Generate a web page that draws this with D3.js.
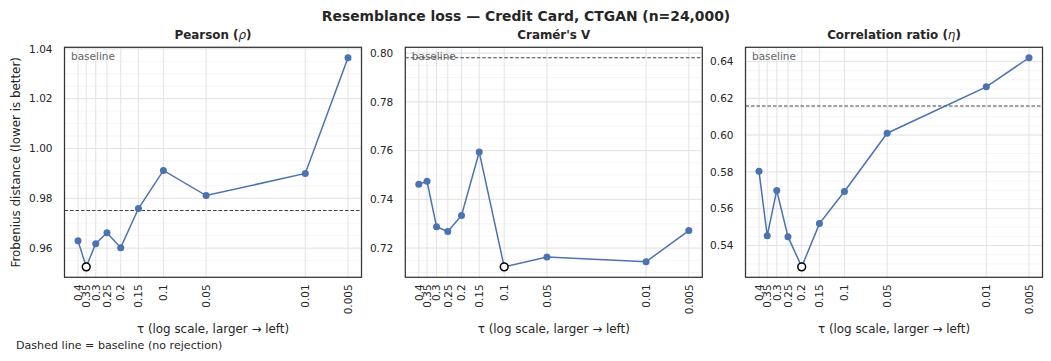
<!DOCTYPE html>
<html><head><meta charset="utf-8">
<script src="https://cdn.jsdelivr.net/npm/d3@7"></script>
<style>
body{margin:0;background:#fff;}
svg text{font-family:"DejaVu Sans",sans-serif;fill:#262626;}
</style></head>
<body><svg id="c" width="1051" height="361"></svg>
<script>
const tau = [0.4, 0.35, 0.3, 0.25, 0.2, 0.15, 0.1, 0.05, 0.01, 0.005];
const tauLabels = ["0.4","0.35","0.3","0.25","0.2","0.15","0.1","0.05","0.01","0.005"];
const pearson   = [0.9630, 0.9525, 0.9618, 0.9662, 0.9602, 0.9759, 0.9912, 0.9811, 0.9900, 1.0364];
const cramer    = [0.7462, 0.7474, 0.7288, 0.7268, 0.7334, 0.7594, 0.7123, 0.7163, 0.7144, 0.7272];
const corrRatio = [0.5803, 0.5453, 0.5699, 0.5448, 0.5284, 0.5519, 0.5693, 0.6010, 0.6262, 0.6420];
const baselines = [0.9751, 0.7981, 0.6158];
const yTicksPearson = [0.96, 0.98, 1.00, 1.02, 1.04];
const yTicksCramer  = [0.72, 0.74, 0.76, 0.78, 0.80];
const yTicksCorr    = [0.54, 0.56, 0.58, 0.60, 0.62, 0.64];
const panelTitles = [["Pearson (", "ρ", ")"], ["Cramér's V", "", ""], ["Correlation ratio (", "η", ")"]];
const mainTitle = "Resemblance loss — Credit Card, CTGAN (n=24,000)";
const yLabel = "Frobenius distance (lower is better)";
const xLabel = "τ (log scale, larger → left)";
const footer = "Dashed line = baseline (no rejection)";

const series = [pearson, cramer, corrRatio];
const yTicks = [yTicksPearson, yTicksCramer, yTicksCorr];

const svg = d3.select("#c");
svg.append("rect").attr("width",1051).attr("height",361).attr("fill","#fff");

const lefts = [64.5, 405.3, 745.5];
const W = 297, topY = 47.3, H = 230;
const blue = "#4c72b0";

svg.append("text").attr("x", 526).attr("y", 21).attr("text-anchor","middle")
  .style("font-size","13.9px").style("font-weight","bold").text(mainTitle);

// log x with 5% padding (in log space)
const lmax = Math.log10(d3.max(tau)), lmin = Math.log10(d3.min(tau));
const lpad = (lmax - lmin) * 0.05;

series.forEach((vals, i) => {
  const g = svg.append("g").attr("transform", `translate(${lefts[i]},${topY})`);
  const x = d3.scaleLog().domain([Math.pow(10, lmax + lpad), Math.pow(10, lmin - lpad)]).range([0, W]);
  const ext = d3.extent(vals.concat([baselines[i]]));
  const yp = (ext[1] - ext[0]) * 0.05;
  const y = d3.scaleLinear().domain([ext[0] - yp, ext[1] + yp]).range([H, 0]);

  // minor horizontal grid
  const minor = d3.range(Math.ceil(y.domain()[0] / 0.005) * 0.005, y.domain()[1], 0.005);
  g.selectAll(".mn").data(minor).join("line")
    .attr("x1",0).attr("x2",W).attr("y1",d=>y(d)).attr("y2",d=>y(d))
    .attr("stroke","#f2f2f2").attr("stroke-width",0.8);
  // major horizontal grid
  g.selectAll(".mj").data(yTicks[i]).join("line")
    .attr("x1",0).attr("x2",W).attr("y1",d=>y(d)).attr("y2",d=>y(d))
    .attr("stroke","#e3e3e3").attr("stroke-width",1);
  // vertical grid
  g.selectAll(".vg").data(tau).join("line")
    .attr("x1",d=>x(d)).attr("x2",d=>x(d)).attr("y1",0).attr("y2",H)
    .attr("stroke","#e3e3e3").attr("stroke-width",1);

  // baseline
  g.append("line").attr("x1",0).attr("x2",W).attr("y1",y(baselines[i])).attr("y2",y(baselines[i]))
    .attr("stroke","#444").attr("stroke-width",1.1).attr("stroke-dasharray","3.5,2");

  // line
  const pts = tau.map((t, k) => [t, vals[k]]);
  g.append("path").datum(pts)
    .attr("d", d3.line().x(d=>x(d[0])).y(d=>y(d[1])))
    .attr("fill","none").attr("stroke",blue).attr("stroke-width",1.5);
  g.selectAll(".pt").data(pts).join("circle")
    .attr("cx",d=>x(d[0])).attr("cy",d=>y(d[1])).attr("r",3.5).attr("fill",blue);
  const mi = d3.minIndex(vals);
  g.append("circle").attr("cx", x(tau[mi])).attr("cy", y(vals[mi])).attr("r",3.9)
    .attr("fill","#fff").attr("stroke","#000").attr("stroke-width",1.5);

  // frame
  g.append("rect").attr("width",W).attr("height",H).attr("fill","none")
    .attr("stroke","#333").attr("stroke-width",1.25);

  // y ticks
  g.selectAll(".yt").data(yTicks[i]).join("text")
    .attr("x",-12).attr("y",d=>y(d)).attr("dy","0.36em").attr("text-anchor","end")
    .style("font-size","10.5px").text(d=>d.toFixed(2));
  // x ticks
  g.selectAll(".xt").data(tau).join("text")
    .attr("transform",(d)=>`translate(${x(d)},${H+7}) rotate(-90)`)
    .attr("dy","0.36em").attr("text-anchor","end")
    .style("font-size","10.5px").text((d,k)=>tauLabels[k]);

  // baseline label
  g.append("text").attr("x",6.5).attr("y",12.7).style("font-size","10.5px")
    .style("fill","#666").text("baseline");

  // panel title
  const tt = g.append("text").attr("x",W/2).attr("y",39 - topY).attr("text-anchor","middle")
    .style("font-size","11.9px").style("font-weight","bold");
  tt.append("tspan").text(panelTitles[i][0]);
  if (panelTitles[i][1]) {
    tt.append("tspan").style("font-weight","normal").style("font-style","italic").text(panelTitles[i][1]);
    tt.append("tspan").text(panelTitles[i][2]);
  }
  // x label
  g.append("text").attr("x",W/2).attr("y",333 - topY).attr("text-anchor","middle")
    .style("font-size","11.9px").text(xLabel);
});

svg.append("text").attr("transform",`translate(20,${topY + H/2}) rotate(-90)`)
  .attr("text-anchor","middle").style("font-size","11.9px").text(yLabel);
svg.append("text").attr("x",16).attr("y",349).style("font-size","11.1px").text(footer);
</script></body></html>
